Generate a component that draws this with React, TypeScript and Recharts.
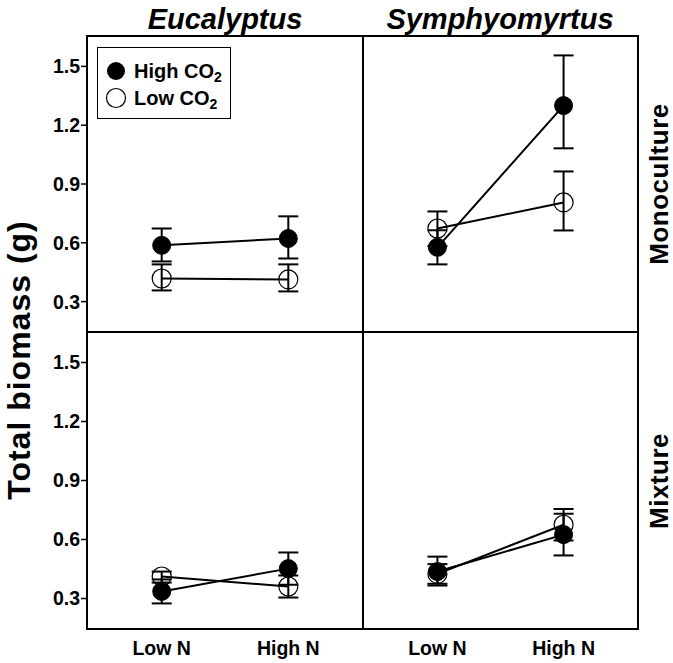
import React from 'react';
import { LineChart, Line, XAxis, YAxis, ErrorBar, ReferenceArea } from 'recharts';

const nLevels = ['Low N', 'High N'];
const yTicks = [0.3, 0.6, 0.9, 1.2, 1.5];
const species = ['Eucalyptus', 'Symphyomyrtus'];
const cultures = ['Monoculture', 'Mixture'];

// means and [lower, upper] error per N level
const eucMonoHigh = [0.587, 0.622];
const eucMonoHighErr = [[0.082, 0.086], [0.102, 0.113]];
const eucMonoLow = [0.418, 0.413];
const eucMonoLowErr = [[0.061, 0.072], [0.061, 0.077]];

const symMonoHigh = [0.577, 1.3];
const symMonoHighErr = [[0.087, 0.087], [0.218, 0.256]];
const symMonoLow = [0.673, 0.806];
const symMonoLowErr = [[0.09, 0.087], [0.143, 0.158]];

const eucMixHigh = [0.336, 0.452];
const eucMixHighErr = [[0.061, 0.061], [0.082, 0.082]];
const eucMixLow = [0.412, 0.361];
const eucMixLowErr = [[0.031, 0.025], [0.056, 0.056]];

const symMixHigh = [0.437, 0.625];
const symMixHighErr = [[0.071, 0.076], [0.106, 0.106]];
const symMixLow = [0.425, 0.675];
const symMixLowErr = [[0.05, 0.05], [0.08, 0.08]];

const FONT = '"Liberation Sans", Arial, sans-serif';
const X_DOMAIN = [-0.59, 1.59];
const Y_DOMAIN = [0.145, 1.655];
const M = 4;

function rows(high: number[], highErr: number[][], low: number[], lowErr: number[][]) {
  return nLevels.map((n, i) => ({
    x: i,
    name: n,
    high: high[i],
    highErr: highErr[i],
    low: low[i],
    lowErr: lowErr[i],
  }));
}

const filledDot = { r: 9, fill: '#000', stroke: '#000', strokeWidth: 1 };
const openDot = { r: 9.5, fill: 'none', stroke: '#000', strokeWidth: 1.2 };
const tickStyle = { fontSize: 19.5, fontWeight: 700, fill: '#000', fontFamily: FONT };

interface PanelProps {
  data: ReturnType<typeof rows>;
  left: number;
  top: number;
  w: number;
  h: number;
  showY: boolean;
  showX: boolean;
}

const Panel: React.FC<PanelProps> = ({ data, left, top, w, h, showY, showX }) => {
  const yW = showY ? 60 : 0;
  const xH = showX ? 34 : 0;
  return (
    <div style={{ position: 'absolute', left: left - M - yW, top: top - M }}>
      <LineChart
        width={M + yW + w + M}
        height={M + h + xH + M}
        data={data}
        margin={{ top: M, right: M, bottom: M, left: M }}
      >
        <XAxis
          dataKey="x"
          type="number"
          domain={X_DOMAIN}
          ticks={[0, 1]}
          tickFormatter={(v: number) => nLevels[v]}
          axisLine={false}
          tickLine={false}
          tick={showX ? tickStyle : false}
          tickMargin={6}
          height={xH}
          allowDataOverflow
        />
        <YAxis
          type="number"
          domain={Y_DOMAIN}
          ticks={yTicks}
          tickFormatter={(v: number) => v.toFixed(1)}
          axisLine={false}
          tickLine={showY ? { stroke: '#000', strokeWidth: 1.5 } : false}
          tickSize={6}
          tickMargin={1}
          tick={showY ? tickStyle : false}
          width={yW}
          allowDataOverflow
        />
        <ReferenceArea
          x1={X_DOMAIN[0]}
          x2={X_DOMAIN[1]}
          y1={Y_DOMAIN[0]}
          y2={Y_DOMAIN[1]}
          fill="none"
          fillOpacity={0}
          stroke="#000"
          strokeWidth={2}
          strokeOpacity={1}
          ifOverflow="visible"
        />
        <Line
          dataKey="low"
          stroke="#000"
          strokeWidth={2}
          dot={openDot}
          activeDot={false}
          isAnimationActive={false}
        >
          <ErrorBar dataKey="lowErr" width={10} stroke="#000" strokeWidth={2} direction="y" />
        </Line>
        <Line
          dataKey="high"
          stroke="#000"
          strokeWidth={2}
          dot={filledDot}
          activeDot={false}
          isAnimationActive={false}
        >
          <ErrorBar dataKey="highErr" width={10} stroke="#000" strokeWidth={2} direction="y" />
        </Line>
      </LineChart>
    </div>
  );
};

const Legend: React.FC = () => (
  <div
    style={{
      position: 'absolute',
      left: 97,
      top: 47,
      width: 132,
      height: 70,
      border: '1.5px solid #000',
      background: '#fff',
    }}
  >
    <svg width={132} height={70} style={{ position: 'absolute', left: 0, top: 0 }}>
      <circle cx={18} cy={23} r={9} fill="#000" />
      <circle cx={18} cy={50} r={9.5} fill="none" stroke="#000" strokeWidth={1.2} />
      <text x={36} y={30} fontSize={20} fontWeight={700} fontFamily={FONT}>
        High CO<tspan fontSize={14} dy={4}>2</tspan>
      </text>
      <text x={36} y={57} fontSize={20} fontWeight={700} fontFamily={FONT}>
        Low CO<tspan fontSize={14} dy={4}>2</tspan>
      </text>
    </svg>
  </div>
);

export default function App() {
  const panels = [
    { data: rows(eucMonoHigh, eucMonoHighErr, eucMonoLow, eucMonoLowErr), left: 87, top: 36, w: 276, h: 296, showY: true, showX: false },
    { data: rows(symMonoHigh, symMonoHighErr, symMonoLow, symMonoLowErr), left: 363, top: 36, w: 275, h: 296, showY: false, showX: false },
    { data: rows(eucMixHigh, eucMixHighErr, eucMixLow, eucMixLowErr), left: 87, top: 332, w: 276, h: 297, showY: true, showX: true },
    { data: rows(symMixHigh, symMixHighErr, symMixLow, symMixLowErr), left: 363, top: 332, w: 275, h: 297, showY: false, showX: true },
  ];
  return (
    <div style={{ position: 'absolute', left: 0, top: 0, width: 673, height: 663, background: '#fff', fontFamily: FONT }}>
      {panels.map((p, i) => (
        <Panel key={i} {...p} />
      ))}
      <svg width={673} height={663} style={{ position: 'absolute', left: 0, top: 0, pointerEvents: 'none' }}>
        <g fontFamily={FONT} fontWeight={700} fill="#000" textAnchor="middle">
          <text x={225} y={29} fontSize={29} fontStyle="italic">{species[0]}</text>
          <text x={500} y={29} fontSize={29} fontStyle="italic">{species[1]}</text>
          <text x={30} y={360} fontSize={32} letterSpacing={1} transform="rotate(-90 30 360)">
            Total biomass (g)
          </text>
          <text x={668} y={184} fontSize={26} letterSpacing={0.5} transform="rotate(-90 668 184)">
            {cultures[0]}
          </text>
          <text x={668} y={481} fontSize={26} letterSpacing={0.5} transform="rotate(-90 668 481)">
            {cultures[1]}
          </text>
        </g>
      </svg>
      <Legend />
    </div>
  );
}
